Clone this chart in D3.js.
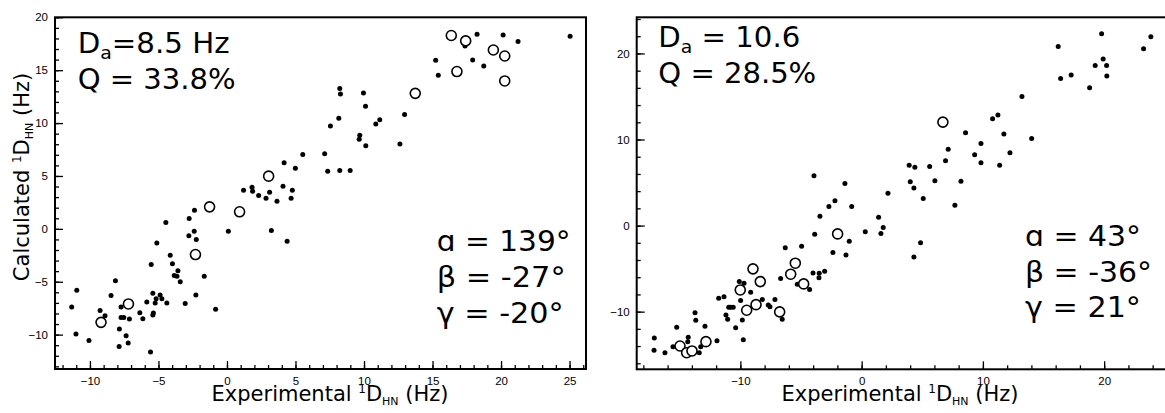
<!DOCTYPE html>
<html>
<head>
<meta charset="utf-8">
<script src="https://cdn.jsdelivr.net/npm/d3@7"></script>
<style>
  body { margin: 0; background: #fff; }
  text { font-family: "DejaVu Sans", sans-serif; fill: #000; }
  .tick text { font-family: "Liberation Sans", Arial, sans-serif; font-size: 11.5px; }
</style>
</head>
<body>
<svg id="chart" width="1165" height="413"></svg>
<script>
// left panel: filled points (experimental, calculated)
const leftX = [1.21, 1.83, 1.87, 2.31, 2.85, 3.11, 3.65, 4.09, 4.17, 4.77, 4.68, 4.99, 18.25, 20.15, 21.24, 25.04,
  17.37, 17.93, 18.74, 15.23, 15.42, 8.23, 8.28, 9.96, 10.11, 8.16, 7.55, 11.15, 10.86, 12.96, 9.69, 9.65, 10.13,
  12.62, 5.53, 7.13, 7.35, 8.23, 8.99, -2.37, -2.76, -4.46, 0.10, 3.24, 4.39, -2.39, -2.78, -2.24, -5.12, -4.14,
  -3.98, -5.53, -3.58, -3.85, -3.65, -3.41, -1.66, -8.14, -10.96, -8.46, -5.41, -2.27, -4.88, -5.17, -4.75, -5.24,
  -4.39, -5.85, -3.05, -7.73, -11.33, -9.26, -6.36, -5.37, -5.41, -0.83, -8.90, -7.73, -7.53, -7.12, -6.14, -7.85,
  -11.02, -7.36, -10.07, -7.21, -7.87, -5.58];
const leftY = [3.66, 3.94, 3.56, 3.15, 2.90, 3.47, 2.61, 4.03, 6.25, 3.66, 2.90, 5.74, 18.40, 18.33, 17.71, 18.21,
  17.29, 15.97, 15.40, 15.94, 14.52, 13.26, 12.75, 12.84, 11.58, 10.45, 9.72, 10.32, 9.91, 10.82, 8.86, 8.46, 7.86,
  8.01, 7.04, 7.10, 5.45, 5.52, 5.52, 1.76, 0.98, 0.60, -0.23, -0.16, -1.17, -0.23, -0.66, -1.01, -1.33, -2.50,
  -3.31, -3.38, -3.95, -4.42, -4.49, -4.99, -4.49, -4.90, -5.81, -6.29, -6.10, -6.25, -6.25, -6.60, -6.60, -7.01,
  -7.01, -6.91, -7.05, -7.39, -7.39, -7.71, -7.93, -7.95, -8.14, -7.61, -8.21, -8.37, -8.37, -8.52, -8.49, -9.47,
  -9.94, -10.10, -10.55, -10.80, -11.12, -11.65];
// left panel: open circles
const leftOpenX = [3.04, 0.92, -1.27, 16.37, 17.42, 19.44, 20.27, 16.78, 20.27, 13.74, -2.30, -7.19, -9.19];
const leftOpenY = [4.98, 1.61, 2.08, 18.28, 17.77, 16.91, 16.34, 14.87, 13.98, 12.81, -2.43, -7.10, -8.84];

// right panel: filled points
const rightX = [-3.93, -1.38, -2.20, -2.70, -0.82, 19.79, 23.85, 23.25, 16.21, 19.92, 19.26, 20.20, 20.22, 16.41,
  17.28, 18.80, 13.22, 11.24, 10.80, 8.57, 11.73, 14.02, 7.14, 9.84, 9.32, 12.23, 9.84, 11.38, 6.92, 3.92, 4.39,
  5.61, 4.01, 6.04, 8.19, 4.31, 2.17, 5.08, 7.69, 1.40, 0.30, 1.78, 1.59, 4.86, 4.31, -3.44, -3.87, -1.02, -6.30,
  -4.95, -2.37, -1.29, -4.01, -3.50, -3.05, -3.52, -6.68, -5.31, -4.29, -10.09, -9.70, -9.15, -9.98, -8.19, -7.15,
  -7.70, -7.56, -6.55, -11.79, -11.35, -10.80, -10.59, -10.96, -13.74, -13.68, -11.19, -11.05, -10.39, -9.84,
  -12.92, -15.25, -9.76, -11.93, -17.10, -17.12, -16.22, -14.30, -14.34, -15.56, -13.39, -13.27];
const rightY = [5.78, 4.88, 2.87, 2.21, 2.21, 22.29, 21.94, 20.55, 20.81, 19.35, 18.60, 18.60, 17.37, 17.09, 17.49,
  16.01, 15.00, 12.84, 12.41, 10.78, 10.63, 10.12, 8.88, 9.53, 8.22, 8.45, 7.29, 7.02, 7.52, 7.02, 6.79, 6.86, 5.08,
  5.20, 5.16, 4.38, 3.77, 3.14, 2.37, 0.98, -0.73, -0.23, -0.93, -2.01, -3.64, 1.09, -1.00, -1.81, -2.59, -2.40,
  -3.14, -3.41, -5.50, -5.53, -5.30, -6.05, -6.16, -6.81, -7.44, -6.51, -6.70, -7.74, -8.72, -8.60, -8.60, -9.22,
  -9.42, -10.88, -8.44, -8.26, -9.49, -9.49, -9.49, -10.12, -11.00, -10.38, -10.88, -11.86, -10.97, -11.70, -11.81,
  -13.26, -13.37, -13.06, -14.49, -14.77, -12.98, -13.49, -14.07, -14.77, -14.07];
// right panel: open circles
const rightOpenX = [6.70, -1.98, -5.47, -8.96, -5.85, -8.36, -4.78, -10.01, -8.71, -9.48, -6.76, -14.98, -14.43, -13.99, -12.84];
const rightOpenY = [12.02, -0.97, -4.37, -5.03, -5.65, -6.51, -6.78, -7.48, -9.19, -9.84, -10.03, -13.99, -14.77, -14.57, -13.49];

// ticks
const leftXMajor = [-10, -5, 0, 5, 10, 15, 20, 25];
const leftYMajor = [-10, -5, 0, 5, 10, 15, 20];
const rightXMajor = [-10, 0, 10, 20];
const rightYMajor = [-10, 0, 10, 20];

// annotation text
const leftFit = ["8.5 Hz", "33.8%", "139°", "-27°", "-20°"];
const rightFit = ["10.6", "28.5%", "43°", "-36°", "21°"];

const svg = d3.select("#chart");

function drawPanel(p) {
  const x = d3.scaleLinear().domain(p.xDom).range([p.left, p.right]);
  const y = d3.scaleLinear().domain(p.yDom).range([p.bottom, p.top]);
  const g = svg.append("g");

  const xMinor = d3.range(Math.ceil(p.xDom[0] / p.xStep) * p.xStep, p.xDom[1], p.xStep);
  const yMinor = d3.range(Math.ceil(p.yDom[0] / p.yStep) * p.yStep, p.yDom[1] + 0.01, p.yStep);

  g.append("g").attr("transform", "translate(0," + p.bottom + ")")
    .call(d3.axisBottom(x).tickValues(xMinor).tickSize(-4).tickFormat(""));
  g.append("g").attr("transform", "translate(0," + p.bottom + ")")
    .call(d3.axisBottom(x).tickValues(p.xMajor).tickSize(-8).tickPadding(8).tickFormat(d3.format("d")));
  g.append("g").attr("transform", "translate(" + p.left + ",0)")
    .call(d3.axisLeft(y).tickValues(yMinor).tickSize(-4).tickFormat(""));
  g.append("g").attr("transform", "translate(" + p.left + ",0)")
    .call(d3.axisLeft(y).tickValues(p.yMajor).tickSize(-8).tickPadding(7).tickFormat(d3.format("d")));
  g.selectAll(".domain").remove();
  g.selectAll(".tick line").attr("stroke", "#000").attr("stroke-width", 1.3);

  g.append("rect")
    .attr("x", p.left).attr("y", p.top)
    .attr("width", p.right - p.left).attr("height", p.bottom - p.top)
    .attr("fill", "none").attr("stroke", "#000").attr("stroke-width", 2);

  g.selectAll(".dot")
    .data(d3.zip(p.fx, p.fy))
    .enter().append("circle")
    .attr("cx", d => x(d[0])).attr("cy", d => y(d[1]))
    .attr("r", 2.5).attr("fill", "#000");

  g.selectAll(".open")
    .data(d3.zip(p.ox, p.oy))
    .enter().append("circle")
    .attr("cx", d => x(d[0])).attr("cy", d => y(d[1]))
    .attr("r", 5).attr("fill", "#fff").attr("stroke", "#000").attr("stroke-width", 1.6);

  // x axis title
  const t = g.append("text")
    .attr("x", p.titleX).attr("y", 401)
    .attr("text-anchor", "middle").attr("font-size", 21);
  t.append("tspan").text("Experimental ");
  t.append("tspan").attr("font-size", 12).attr("dy", -8).text("1");
  t.append("tspan").attr("dy", 8).text("D");
  t.append("tspan").attr("font-size", 11).attr("dy", 4).text("HN");
  t.append("tspan").attr("dy", -4).text(" (Hz)");
  return g;
}

// one line of annotation, squeezed to the width seen in the picture
function note(x0, y0, w, parts) {
  const t = svg.append("text").attr("font-size", 28).attr("transform", "translate(" + x0 + "," + y0 + ")");
  parts.forEach(pt => {
    if (pt.sub) t.append("tspan").attr("font-size", 18).attr("dy", 6).text(pt.sub);
    else t.append("tspan").attr("dy", pt.back ? -6 : 0).text(pt.t);
  });
  const bw = t.node().getBBox().width;
  t.attr("transform", "translate(" + x0 + "," + y0 + ") scale(" + (w + 4) / bw + ",1)");
}

drawPanel({
  left: 55, right: 586, top: 17.3, bottom: 369,
  xDom: [-12.55, 26.2], yDom: [-13.25, 20],
  xMajor: leftXMajor, yMajor: leftYMajor, xStep: 1, yStep: 1,
  fx: leftX, fy: leftY, ox: leftOpenX, oy: leftOpenY, titleX: 330
});
drawPanel({
  left: 636.7, right: 1166, top: 17.3, bottom: 369.3,
  xDom: [-18.55, 25.1], yDom: [-16.7, 24.2],
  xMajor: rightXMajor, yMajor: rightYMajor, xStep: 2, yStep: 2,
  fx: rightX, fy: rightY, ox: rightOpenX, oy: rightOpenY, titleX: 900
});

// y axis title (left panel only)
const yt = svg.append("text")
  .attr("transform", "translate(28.5,177) rotate(-90)")
  .attr("text-anchor", "middle").attr("font-size", 21);
yt.append("tspan").text("Calculated ");
yt.append("tspan").attr("font-size", 12).attr("dy", -8).text("1");
yt.append("tspan").attr("dy", 8).text("D");
yt.append("tspan").attr("font-size", 11).attr("dy", 4).text("HN");
yt.append("tspan").attr("dy", -4).text(" (Hz)");

note(77.7, 53.3, 148, [{t: "D"}, {sub: "a"}, {t: "=" + leftFit[0], back: true}]);
note(77.7, 89.3, 154, [{t: "Q = " + leftFit[1]}]);
note(436.7, 250.7, 130, [{t: "\u0251 = " + leftFit[2]}]);
note(436.7, 287.3, 125, [{t: "\u03b2 = " + leftFit[3]}]);
note(436.7, 322.7, 123, [{t: "\u03b3 = " + leftFit[4]}]);

note(658.3, 47.3, 138, [{t: "D"}, {sub: "a"}, {t: " = " + rightFit[0], back: true}]);
note(658.3, 82.7, 154, [{t: "Q = " + rightFit[1]}]);
note(1025, 245.7, 112, [{t: "\u0251 = " + rightFit[2]}]);
note(1025, 281.7, 123, [{t: "\u03b2 = " + rightFit[3]}]);
note(1025, 317.3, 112, [{t: "\u03b3 = " + rightFit[4]}]);
</script>
</body>
</html>
